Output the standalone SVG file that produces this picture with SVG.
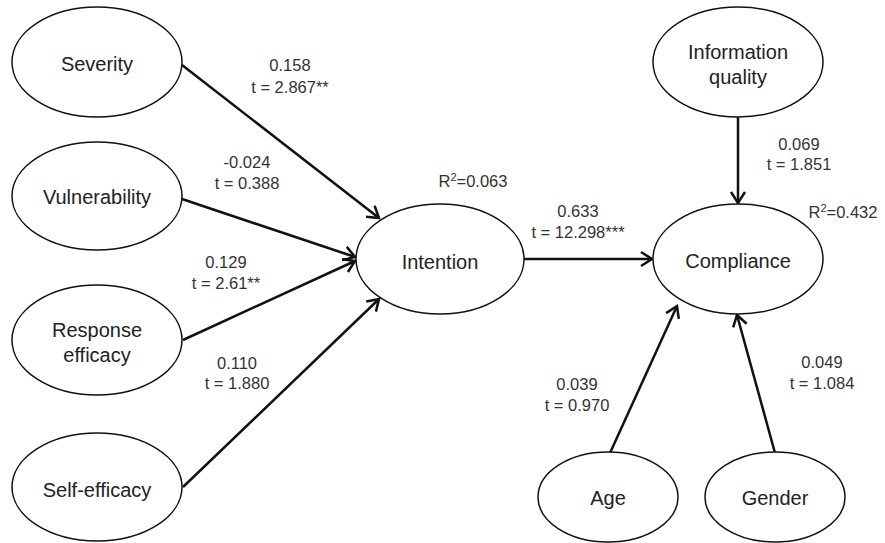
<svg xmlns="http://www.w3.org/2000/svg" width="885" height="543" viewBox="0 0 885 543">
<style>
.node ellipse{fill:#fff;stroke:#111;stroke-width:1.5}
.node text{font-family:"Liberation Sans",Arial,sans-serif;font-size:20px;fill:#222;text-anchor:middle}
.lbl{font-family:"Liberation Sans",Arial,sans-serif;font-size:16.5px;fill:#333;text-anchor:middle}
.edges line{stroke:#111;stroke-width:2.5;fill:none}
</style>
<defs>
<marker id="arr" markerUnits="userSpaceOnUse" markerWidth="30" markerHeight="30" viewBox="-15 -15 30 30" refX="0" refY="0" orient="auto" overflow="visible">
<path d="M-11,-7 L0,0 L-11,7" fill="none" stroke="#111" stroke-width="2.5" stroke-linejoin="miter"/>
</marker>
</defs>
<rect width="885" height="543" fill="#fff"/>
<g class="edges">
<line x1="182" y1="65" x2="379" y2="218" marker-end="url(#arr)"/>
<line x1="182" y1="199" x2="355" y2="257" marker-end="url(#arr)"/>
<line x1="183" y1="340" x2="355" y2="261" marker-end="url(#arr)"/>
<line x1="183" y1="487" x2="379" y2="299" marker-end="url(#arr)"/>
<line x1="524" y1="259" x2="652" y2="259" marker-end="url(#arr)"/>
<line x1="738" y1="117" x2="738" y2="203" marker-end="url(#arr)"/>
<line x1="610" y1="453" x2="677" y2="306" marker-end="url(#arr)"/>
<line x1="775" y1="453" x2="737" y2="315" marker-end="url(#arr)"/>
</g>
<g id="severity" class="node"><ellipse cx="97" cy="62" rx="85" ry="55"/><text x="97" y="71">Severity</text></g>
<g id="vulnerability" class="node"><ellipse cx="97" cy="196" rx="85" ry="54"/><text x="97" y="204">Vulnerability</text></g>
<g id="response" class="node"><ellipse cx="97" cy="340" rx="85" ry="55"/><text x="97" y="337">Response</text><text x="97" y="362">efficacy</text></g>
<g id="selfefficacy" class="node"><ellipse cx="97" cy="487" rx="85" ry="54"/><text x="97" y="497">Self-efficacy</text></g>
<g id="intention" class="node"><ellipse cx="440" cy="259" rx="84" ry="55"/><text x="440" y="269">Intention</text></g>
<g id="compliance" class="node"><ellipse cx="738" cy="259" rx="85" ry="55"/><text x="738" y="268">Compliance</text></g>
<g id="infoquality" class="node"><ellipse cx="738" cy="62" rx="85" ry="55"/><text x="738" y="59">Information</text><text x="738" y="84">quality</text></g>
<g id="age" class="node"><ellipse cx="608" cy="497" rx="70" ry="45"/><text x="608" y="505">Age</text></g>
<g id="gender" class="node"><ellipse cx="775" cy="497" rx="70" ry="45"/><text x="775" y="505">Gender</text></g>
<g id="labels">
<text class="lbl" x="290" y="71">0.158</text>
<text class="lbl" x="290" y="93">t = 2.867**</text>
<text class="lbl" x="247" y="168">-0.024</text>
<text class="lbl" x="247" y="189">t = 0.388</text>
<text class="lbl" x="226" y="268">0.129</text>
<text class="lbl" x="226" y="289">t = 2.61**</text>
<text class="lbl" x="237" y="369">0.110</text>
<text class="lbl" x="237" y="389">t = 1.880</text>
<text class="lbl" x="473" y="187">R<tspan font-size="11" dy="-6">2</tspan><tspan dy="6">=0.063</tspan></text>
<text class="lbl" x="578" y="217">0.633</text>
<text class="lbl" x="578" y="238">t = 12.298***</text>
<text class="lbl" x="799" y="150">0.069</text>
<text class="lbl" x="799" y="170">t = 1.851</text>
<text class="lbl" x="843" y="218">R<tspan font-size="11" dy="-6">2</tspan><tspan dy="6">=0.432</tspan></text>
<text class="lbl" x="577" y="390">0.039</text>
<text class="lbl" x="577" y="411">t = 0.970</text>
<text class="lbl" x="822" y="368">0.049</text>
<text class="lbl" x="822" y="389">t = 1.084</text>
</g>
</svg>
